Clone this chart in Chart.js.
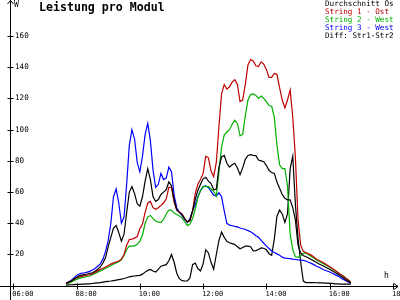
<!DOCTYPE html>
<html>
<head>
<meta charset="utf-8">
<script src="https://cdn.jsdelivr.net/npm/chart.js@4/dist/chart.umd.min.js"></script>
<style>
  body { margin: 0; background: #fff; }
  canvas { display: block; }
</style>
</head>
<body>
<canvas id="chart" width="400" height="300"></canvas>
<script>
// sample times (5 min)
var times = [
  "07:40","07:45","07:50","07:55","08:00","08:05","08:10","08:15","08:20","08:25","08:30","08:35",
  "08:40","08:45","08:50","08:55","09:00","09:05","09:10","09:15","09:20","09:25","09:30","09:35",
  "09:40","09:45","09:50","09:55","10:00","10:05","10:10","10:15","10:20","10:25","10:30","10:35",
  "10:40","10:45","10:50","10:55","11:00","11:05","11:10","11:15","11:20","11:25","11:30","11:35",
  "11:40","11:45","11:50","11:55","12:00","12:05","12:10","12:15","12:20","12:25","12:30","12:35",
  "12:40","12:45","12:50","12:55","13:00","13:05","13:10","13:15","13:20","13:25","13:30","13:35",
  "13:40","13:45","13:50","13:55","14:00","14:05","14:10","14:15","14:20","14:25","14:30","14:35",
  "14:40","14:45","14:50","14:55","15:00","15:05","15:10","15:15","15:20","15:25","15:30","15:35",
  "15:40","15:45","15:50","15:55","16:00","16:05","16:10","16:15","16:20","16:25","16:30","16:35",
  "16:40"
];

var durchschnitt = [
  1.4,2.2,3,4.2,5.3,6.3,6.8,7.2,7.5,7.9,8.3,9.3,
  10.5,12,14.5,18,25,31,37,38.5,34,28.5,33,47,
  60,63.5,59,52.5,51,57,67,75,68,57,54,55.2,
  58.5,60,61.5,66.5,64,55,48.5,47,45.5,43,40.8,42,
  48,55.5,61,65,68.5,69.5,67,65.5,61.5,62,76,82.5,
  83.5,78.5,76,77.5,78.5,75.5,71.2,75.5,81,83.5,84,83.5,
  83.4,80.5,80,79.5,77,74,72.5,72,66.5,62.5,58.5,56,
  55,55,50,42,26,21,19.4,18.6,17.8,16.8,15.8,14.8,
  13.9,13.1,12.3,11.3,10.5,9.5,8.4,7.5,6.3,5.2,4,2.9,
  1.8
];
var string1 = [
  1.5,2.3,3,4,5,5.6,6,6.4,6.8,7,7.6,8.5,
  9.5,10.5,11.2,12,13,13.8,14.6,15.2,15.8,17,20,26,
  29.6,29.8,30.5,31.5,36.5,39.5,47,53,54,50,49,50,
  51.5,53,55.5,63,63,53.5,48.5,47.3,46,43,41,41.5,
  48,59,65,68,72,83,82,73.5,70,79,102,123,
  129,126,127.5,130.5,132,129,118,119,129,141.5,145,144,
  141,140.5,143.5,142,138.5,133.5,133.5,136,135.5,127,119,114,
  119,125.5,108,82,42,26,22,21.2,20.5,19.6,18.4,17,
  16.2,15.3,14.4,13.3,12.2,11.1,9.9,8.6,7.4,6.3,5,3.6,
  2.2
];
var string2 = [
  1.2,1.6,2.3,3.2,4,4.7,5.2,5.5,5.9,6.2,7,7.8,
  8.7,9.5,10.3,11.2,12,12.8,13.8,14.6,15.3,16.5,19.5,23.2,
  25.3,25.3,25.5,26.5,28.5,32.5,40,44,45,43,41.5,40.7,
  40.6,42.5,46,48.5,48.5,46.5,45.6,44.7,43.5,41,38.5,39.5,
  43,49,56.5,61,63.5,63.7,63.5,62,60.5,57.5,73,89,
  96.5,98.5,100,103.5,106,104,96,97,109,119,122.5,123,
  122,120,121.5,120,118,115.5,115,108,90,77.5,75,75,
  64,33,23,18.5,18.2,19.2,20.8,20.8,19.8,18.8,17.8,16.5,
  15.5,14.6,13.8,12.8,11.8,10.8,9.7,8.5,7.4,6.2,5,3.8,
  2.5
];
var string3 = [
  1.5,2.5,3.5,5,6.5,7.5,8,8.3,8.7,9.2,10,11,
  12.5,14,17,22,29,40,57,62,53,40,44,65,
  90,100,94,79,73,83,97,104,93,74,63,65,
  72,68,69,76,73,58,50,47,45,42.5,40.5,43,
  48,52,57,61,63.5,64,63,60.5,58,57.5,59.5,57,
  48,40,38.8,38.4,38,37.7,37,36.5,36,35.3,34.6,33.5,
  32,31,29,27.2,25.5,23.8,22.3,21.3,20.4,19.5,18.3,17.7,
  17.5,17.3,17,16.8,16.5,16.4,16.2,15.8,15,14.3,13.5,12.5,
  11.8,10.9,10.1,9.4,8.8,8,7.1,6.3,5.2,4.2,3.3,2.4,
  1.5
];
var diff12 = [
  0.3,0.5,0.6,0.7,0.8,0.9,1,1,1.1,1.2,1.4,1.6,
  1.8,2,2.3,2.6,2.8,3,3.3,3.6,3.9,4.2,4.6,5.1,
  5.7,6,6.2,6.4,6.6,7.4,8.7,9.8,10.4,9.4,8.8,10.5,
  12.5,13,13.5,16,20,15,8,4.5,3.2,3,3,5,
  13.5,14.5,11,9.5,14,23,21,15,10.5,20,29,34.3,
  31,28.5,27.5,27,26.4,25,23.7,24.5,25.3,25.3,25,22.3,
  22.5,23.2,24.2,24,23,20.5,19.5,30,44.5,48.5,46,40.5,
  46,75,83,52,30,15,3,2,2,2,2,1.9,
  1.8,1.8,1.7,1.6,1.5,1.5,1.2,1.1,1,1,1,1,
  1
];

var seriesNames = ["Durchschnitt Os", "String 1 - Ost", "String 2 - West", "String 3 - West", "Diff: Str1-Str2"];
var seriesColors = ["#000000", "#c00000", "#00b000", "#0000ff", "#000000"];

var xTicks = [6, 8, 10, 12, 14, 16, 18];
var xTickLabels = ["06:00", "08:00", "10:00", "12:00", "14:00", "16:00", "18:00"];
var yTicks = [20, 40, 60, 80, 100, 120, 140, 160];

function toHours(s) {
  var p = s.split(':');
  return parseInt(p[0]) + parseInt(p[1]) / 60;
}

function points(values) {
  return values.map(function(v, i){ return {x: toHours(times[i]), y: v}; });
}

var allSeries = [durchschnitt, string1, string2, string3, diff12];

var mono = "'DejaVu Sans Mono', 'Liberation Mono', monospace";

var axesPlugin = {
  id: 'axes',
  beforeDatasetsDraw: function(chart){
    var ctx = chart.ctx, xs = chart.scales.x, ys = chart.scales.y;
    var ax = Math.round(xs.left) + 0.5;
    var ay = Math.round(ys.getPixelForValue(0)) + 0.5;
    ctx.save();
    ctx.strokeStyle = '#000';
    ctx.lineWidth = 1;
    ctx.beginPath();
    // y axis with arrow
    ctx.moveTo(ax, 300); ctx.lineTo(ax, 0);
    ctx.moveTo(ax - 3, 4); ctx.lineTo(ax, 0.5); ctx.lineTo(ax + 3, 4);
    // x axis with arrow
    ctx.moveTo(0, ay); ctx.lineTo(398, ay);
    ctx.moveTo(394, ay - 3); ctx.lineTo(398, ay); ctx.lineTo(394, ay + 3);
    yTicks.forEach(function(v){
      var py = Math.round(ys.getPixelForValue(v)) + 0.5;
      ctx.moveTo(ax - 3, py); ctx.lineTo(ax + 3, py);
    });
    xTicks.forEach(function(t){
      var px = Math.round(xs.getPixelForValue(t)) + 0.5;
      ctx.moveTo(px, ay - 3); ctx.lineTo(px, ay + 3);
    });
    ctx.stroke();
    ctx.restore();
  },
  afterDraw: function(chart){
    var ctx = chart.ctx, xs = chart.scales.x, ys = chart.scales.y;
    ctx.save();
    ctx.fillStyle = '#000';
    ctx.textBaseline = 'middle';
    ctx.textAlign = 'left';
    ctx.font = '7.6px ' + mono;
    yTicks.forEach(function(v){
      ctx.fillText(String(v), 15, ys.getPixelForValue(v));
    });
    ctx.font = '7px ' + mono;
    xTicks.forEach(function(t, i){
      ctx.fillText(xTickLabels[i], xs.getPixelForValue(t) - 1, 294);
    });
    ctx.font = '8px ' + mono;
    ctx.fillText('W', 14, 5);
    ctx.fillText('h', 384, 276);
    // title
    ctx.font = 'bold 11.6px ' + mono;
    ctx.fillText('Leistung pro Modul', 39, 8);
    // legend
    ctx.font = '7.6px ' + mono;
    seriesNames.forEach(function(n, i){
      ctx.fillStyle = seriesColors[i];
      ctx.fillText(n, 325, 4.5 + i * 7.8);
    });
    ctx.restore();
  }
};

new Chart(document.getElementById('chart'), {
  type: 'line',
  data: {
    datasets: allSeries.map(function(s, i){
      return {
        label: seriesNames[i],
        data: points(s),
        borderColor: seriesColors[i],
        backgroundColor: seriesColors[i],
        borderWidth: 1.2,
        pointRadius: 0,
        tension: 0,
        fill: false
      };
    })
  },
  options: {
    responsive: false,
    animation: false,
    events: [],
    layout: { padding: { left: 10, right: 2, top: 2, bottom: 14 } },
    scales: {
      x: { type: 'linear', display: false, min: 5.896, max: 18.159 },
      y: { type: 'linear', display: false, min: -0.2, max: 181.85 }
    },
    plugins: {
      legend: { display: false },
      title: { display: false },
      tooltip: { enabled: false }
    }
  },
  plugins: [axesPlugin]
});
</script>
</body>
</html>
